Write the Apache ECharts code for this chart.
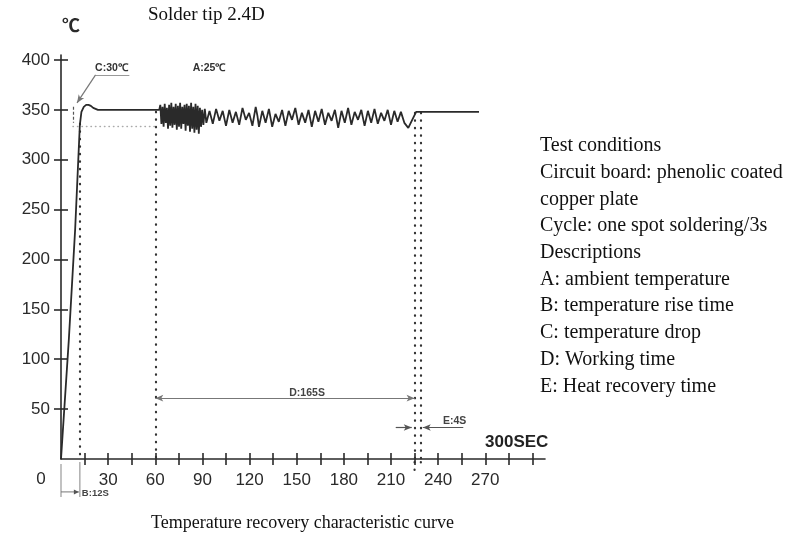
<!DOCTYPE html>
<html><head><meta charset="utf-8">
<script src="https://cdn.jsdelivr.net/npm/echarts@6/dist/echarts.min.js"></script>
<style>html,body{margin:0;padding:0;background:#fff}#c{width:803px;height:540px}</style>
</head><body><div id="c"></div>
<script>
// ---- data (time in seconds, temperature in °C) ----
const timeSec = [0,5,9,11,12,13,14.5,16,17.5,19,20.5,22,23.5,25,40,62.5,
 63.2,63.9,64.6,65.3,66.0,66.7,67.4,68.1,68.8,69.5,70.2,70.9,71.6,72.3,73.0,73.7,74.4,75.1,75.8,76.5,77.2,77.9,78.6,79.3,80.0,80.7,81.4,82.1,82.8,83.5,84.2,84.9,85.6,86.3,87.0,87.7,88.4,89.1,89.8,90.6,91.5,92.5,
 94.5,96.6,98.7,100.8,102.9,105.0,107.1,109.2,111.3,113.4,115.5,117.6,119.7,121.8,123.9,125.0,126.0,128.1,130.2,132.3,134.4,136.5,138.6,140.7,142.8,144.9,147.0,149.1,151.2,153.3,155.4,157.5,159.6,161.7,163.8,165.9,168.0,170.1,172.2,174.3,176.4,178.5,180.6,182.7,184.8,186.9,189.0,191.1,193.2,195.3,197.4,199.5,201.6,203.7,205.8,207.9,210.0,212.1,214.2,216.3,218.5,221.0,226.0,266.0];
const tempC = [0,120,230,300,335,348,353,355,355,354,352,351,350,350,350,350,
 355,336,353,333,356,337,352,331,355,334,357,332,353,335,356,330,354,333,357,331,353,336,355,329,356,334,354,328,357,331,353,327,356,330,354,326,352,333,350,335,351,337,
 349,336,351,339,349,334,350,337,348,335,352,340,347,334,353,344,333,349,337,351,333,346,338,350,334,349,340,352,335,347,337,350,333,349,338,351,335,347,339,350,332,349,337,352,335,348,340,350,334,349,337,351,336,347,339,350,335,349,338,348,337,332,348,348];
const xTickValues = [15,30,45,60,75,90,105,120,135,150,165,180,195,210,225,240,255,270,285,300];
const xLabelValues = [30,60,90,120,150,180,210,240,270];
const yTickValues = [50,100,150,200,250,300,350,400];
const riseTime = 12, workStart = 60, workEnd = 225, recoveryEnd = 229;
const conditionLines = ['Test conditions','Circuit board: phenolic coated','copper plate','Cycle: one spot soldering/3s','Descriptions','A: ambient temperature','B: temperature rise time','C: temperature drop','D: Working time','E: Heat recovery time'];

const SERIF = '"Liberation Serif","Times New Roman",serif';
const SANS = '"Liberation Sans",Arial,sans-serif';
const INK = '#2a2a2a';

const chart = echarts.init(document.getElementById('c'));
const dotted = (c,w,gap) => ({color:c, width:w, type:[0.5,gap||7], cap:'round'});
const solid = (c,w) => ({color:c, width:w, type:'solid'});
function seg(a,b,style,endSym,startSym){
  return [{coord:a, symbol:startSym||'none', symbolSize:[5,8], lineStyle:style, label:{show:false}},
          {coord:b, symbol:endSym||'none', symbolSize:[5,8]}];
}
const curve = timeSec.map((t,i)=>[t,tempC[i]]);
function axisX(inside, labels){
  return {type:'value',min:0,max:308,interval:15,position:'bottom',
    axisLine:{show:!inside,lineStyle:{color:INK,width:1.6}},
    axisTick:{inside:inside,customValues:xTickValues,length:6,lineStyle:{color:INK,width:1.6}},
    axisLabel:labels?{customValues:xLabelValues,margin:13,fontSize:17,color:INK,fontFamily:SANS}:{show:false},
    splitLine:{show:false}};
}
function axisY(inside, labels){
  return {type:'value',min:0,max:405,interval:50,position:'left',
    axisLine:{show:!inside,lineStyle:{color:INK,width:1.6}},
    axisTick:{inside:inside,customValues:yTickValues,length:7,lineStyle:{color:INK,width:1.6}},
    axisLabel:labels?{customValues:yTickValues,margin:11,fontSize:17,color:INK,fontFamily:SANS}:{show:false},
    splitLine:{show:false}};
}
const option = {
  animation:false,
  grid:{left:61,top:55,width:484,height:404},
  xAxis:[axisX(false,true),axisX(true,false)],
  yAxis:[axisY(false,true),axisY(true,false)],
  series:[
    {type:'line',data:curve,symbol:'none',lineStyle:{color:INK,width:1.8},z:5,
     markLine:{silent:true,symbol:'none',animation:false,data:[
       seg([riseTime,336],[riseTime,0],dotted('#333',2.2)),
       seg([workStart,348],[workStart,0],dotted('#333',2.2)),
       seg([workEnd,347],[workEnd,0],dotted('#333',2.2)),
       seg([recoveryEnd,347],[recoveryEnd,0],dotted('#333',2.2)),
       seg([7.6,334],[workStart,334],dotted('#aaa',1.4,4)),
       seg([7.6,353],[7.6,337],{color:'#555',width:1.2,type:[3,2]}),
     ]}},
    {type:'line',data:[],symbol:'none',
     markLine:{silent:true,symbol:'none',animation:false,data:[
       seg([22,385],[43.5,385],solid('#999',1.2)),
       seg([22,385],[10.2,357],solid('#777',1.2),'arrow'),
       seg([workStart,61],[workEnd,61],solid('#777',1.2),'arrow','arrow'),
       seg([213,31.6],[223.2,31.6],solid('#555',1.2),'arrow'),
       seg([256,31.6],[230.2,31.6],solid('#555',1.2),'arrow'),
     ]}}
  ]
};
chart.setOption(option);

const px = (t,v)=>chart.convertToPixel({xAxisIndex:0,yAxisIndex:0},[t,v]);
const g = [];
function txt(p, text, font, align, vAlign, fill){
  g.push({type:'text',x:p[0],y:p[1],silent:true,style:{text:text,font:font,fill:fill||INK,align:align||'center',verticalAlign:vAlign||'middle'}});
}
function dots(t, v1, v2){
  const a = px(t,v1), b = px(t,v2);
  g.push({type:'line',silent:true,shape:{x1:a[0],y1:a[1],x2:b[0],y2:b[1]},style:{stroke:'#333',lineWidth:2.2,lineDash:[0.5,7],lineCap:'round'}});
}
txt(px(32.1,392),'C:30℃','bold 10.5px '+SANS,'center','middle','#333');
txt(px(94.2,392),'A:25℃','bold 10.5px '+SANS,'center','middle','#333');
txt(px(156.6,66),'D:165S','bold 10.5px '+SANS,'center','middle','#444');
txt(px(250.5,38),'E:4S','bold 10.5px '+SANS,'center','middle','#444');
txt(px(290,17),'300SEC','bold 17px '+SANS,'center','middle','#222');
txt(px(-12.7,-20),'0','17px '+SANS,'center','middle',INK);
dots(workEnd,-3,-14);
dots(recoveryEnd,-3,-10);
// B marker below the axis
const b0 = px(0,-5), b1 = px(riseTime,-3), bEnd = px(0,-38);
g.push({type:'line',silent:true,shape:{x1:b0[0],y1:b0[1],x2:b0[0],y2:bEnd[1]},style:{stroke:'#999',lineWidth:1.2}});
g.push({type:'line',silent:true,shape:{x1:b1[0],y1:b1[1],x2:b1[0],y2:bEnd[1]},style:{stroke:'#999',lineWidth:1.2}});
const bArrow = px(0,-33);
g.push({type:'line',silent:true,shape:{x1:bArrow[0],y1:bArrow[1],x2:b1[0]-1,y2:bArrow[1]},style:{stroke:'#777',lineWidth:1}});
g.push({type:'polygon',silent:true,shape:{points:[[b1[0]-1,bArrow[1]],[b1[0]-6,bArrow[1]-2.5],[b1[0]-6,bArrow[1]+2.5]]},style:{fill:'#555'}});
txt([b1[0]+2,bArrow[1]+1],'B:12S','bold 9.5px '+SANS,'left','middle','#444');
// titles and notes
g.push({type:'text',x:71,y:25,silent:true,style:{text:'℃',font:'bold 18px "Noto Sans CJK SC",sans-serif',fill:INK,align:'center',verticalAlign:'middle'}});
g.push({type:'text',x:148,y:15,silent:true,style:{text:'Solder tip 2.4D',font:'19px '+SERIF,fill:'#111',align:'left',verticalAlign:'middle'}});
g.push({type:'text',x:151,y:523,silent:true,style:{text:'Temperature recovery characteristic curve',font:'18px '+SERIF,fill:'#111',align:'left',verticalAlign:'middle'}});
conditionLines.forEach((s,i)=>{
  g.push({type:'text',x:540,y:146+i*26.7,silent:true,style:{text:s,font:'20px '+SERIF,fill:'#111',align:'left',verticalAlign:'middle'}});
});
chart.setOption({graphic:g});
</script></body></html>
